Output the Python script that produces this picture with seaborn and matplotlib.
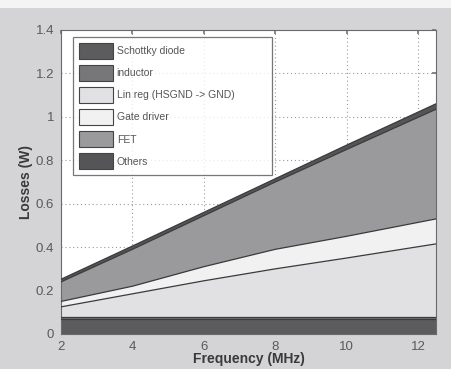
import numpy as np
import pandas as pd
import matplotlib
matplotlib.use("Agg")
import matplotlib.pyplot as plt
import seaborn as sns
from matplotlib.patches import Patch, Rectangle

freq = [2, 4, 6, 8, 10, 12.5]
schottky = [0.070, 0.070, 0.070, 0.070, 0.070, 0.070]
inductor = [0.006, 0.006, 0.006, 0.006, 0.006, 0.006]
lin_reg = [0.049, 0.109, 0.169, 0.224, 0.274, 0.339]
gate_driver = [0.025, 0.035, 0.065, 0.090, 0.100, 0.115]
fet = [0.090, 0.170, 0.235, 0.310, 0.400, 0.505]
others = [0.012, 0.015, 0.015, 0.015, 0.020, 0.025]

names = ["Schottky diode", "inductor", "Lin reg (HSGND -> GND)", "Gate driver", "FET", "Others"]
series = [schottky, inductor, lin_reg, gate_driver, fet, others]
colors = ["#5c5c5e", "#77777a", "#e1e1e3", "#f1f1f2", "#9a9a9d", "#555557"]

xticks = [2, 4, 6, 8, 10, 12]
yticks = [0, 0.2, 0.4, 0.6, 0.8, 1.0, 1.2, 1.4]
yticklabels = ["0", "0.2", "0.4", "0.6", "0.8", "1", "1.2", "1.4"]

sns.set_theme(style="white")
plt.rcParams["font.family"] = ["Liberation Sans", "DejaVu Sans"]

fig = plt.figure(figsize=(4.52, 3.69), dpi=100)
fig.patch.set_facecolor("#d4d4d6")
fig.patches.append(Rectangle((0, 1 - 8 / 369), 1, 8 / 369, transform=fig.transFigure,
                             facecolor="#f4f4f4", edgecolor="none", zorder=0))
ax = fig.add_axes([61 / 452, 35 / 369, 375 / 452, 304 / 369])
ax.set_facecolor("white")

df = pd.DataFrame({"freq": freq})
base = np.zeros(len(freq))
for name, vals, col in zip(names, series, colors):
    top = base + np.array(vals)
    ax.fill_between(freq, base, top, facecolor=col, edgecolor="none", zorder=2)
    df[name] = top
    base = top

for name in names:
    sns.lineplot(data=df, x="freq", y=name, ax=ax, color="#3a3a3c", linewidth=0.9, zorder=3, legend=False)

ax.set_xlim(2, 12.5)
ax.set_ylim(0, 1.4)
ax.set_xticks(xticks)
ax.set_xticklabels([str(t) for t in xticks])
ax.set_yticks(yticks)
ax.set_yticklabels(yticklabels)
ax.grid(True, linestyle=(0, (1, 2.5)), color="#9a9a9a", linewidth=0.8)
ax.set_axisbelow(True)
ax.tick_params(axis="both", labelsize=9.5, labelcolor="#5a5a5a", direction="in",
               length=3, color="#777777", top=True, right=True, pad=5)
for s in ax.spines.values():
    s.set_color("#6a6a6a")
    s.set_linewidth(0.8)

ax.set_xlabel("Frequency (MHz)", fontsize=10, fontweight="bold", color="#3a3a3a", labelpad=-1)
ax.set_ylabel("Losses (W)", fontsize=10, fontweight="bold", color="#3a3a3a", labelpad=2)

handles = [Patch(facecolor=c, edgecolor="#444444", linewidth=0.8, label=n) for n, c in zip(names, colors)]
x0 = (73 - 61) / 375
w = (272 - 73) / 375
top_frac = 1 - (37 - 30) / 304
leg = ax.legend(handles=handles, loc="upper left", bbox_to_anchor=(x0, top_frac - 0.4, w, 0.4),
                mode="expand", fontsize=7.5, frameon=True, fancybox=False, borderpad=0.55,
                handlelength=3.25, handleheight=2.0, labelspacing=0.58, handletextpad=0.4,
                borderaxespad=0)
leg.get_frame().set_edgecolor("#555555")
leg.get_frame().set_linewidth(0.9)
for t in leg.get_texts():
    t.set_color("#555555")

fig.savefig("out.png", dpi=100, facecolor=fig.get_facecolor())
